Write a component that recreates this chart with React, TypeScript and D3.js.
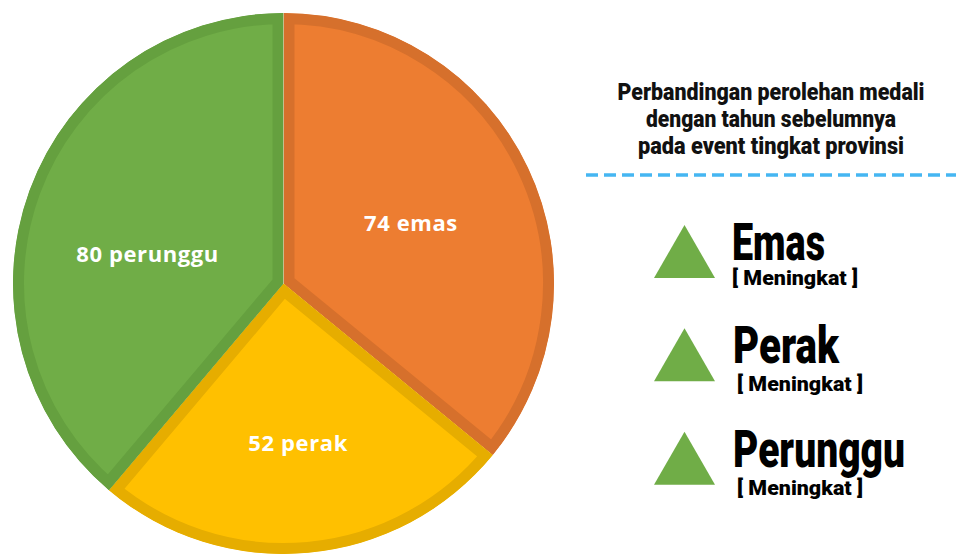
import React from "react";
import * as d3 from "d3";

const categories = ["emas", "perak", "perunggu"];
const values = [74, 52, 80];
const fills = ["#ED7D31", "#FFC000", "#70AD47"];
const strokes = ["#D6702C", "#E6AD00", "#65A03F"];

const titleLines = [
  "Perbandingan perolehan medali",
  "dengan tahun sebelumnya",
  "pada event tingkat provinsi",
];
const legendNames = ["Emas", "Perak", "Perunggu"];
const legendStatus = ["[ Meningkat ]", "[ Meningkat ]", "[ Meningkat ]"];

// layout
const W = 956;
const H = 554;
const cx = 283.5;
const cy = 283.5;
const R = 270.5;
const labelRadius = [141, 160, 139];
const labelNudge = [0, 0, -0.14];
const titleWidths = [307, 250, 266];
const nameWidths = [93, 106, 172];
const nameX = [732, 733, 733];
const statusX = [732, 737, 737];

export default function App() {
  const pie = d3
    .pie<number>()
    .sort(null)
    .value((d) => d)
    .startAngle(0)
    .endAngle(2 * Math.PI);
  const arcs = pie(values);
  const arc = d3.arc<d3.PieArcDatum<number>>().innerRadius(0).outerRadius(R);

  const legendY = d3.scaleBand<number>().domain([0, 1, 2]).range([215, 525]);
  const titleFont = "Roboto, 'DejaVu Sans', sans-serif";

  return (
    <svg
      width={W}
      height={H}
      style={{ position: "absolute", left: 0, top: 0, background: "#fff" }}
    >
      <defs>
        {arcs.map((a, i) => (
          <clipPath id={`clip${i}`} key={i}>
            <path d={arc(a) || ""} />
          </clipPath>
        ))}
      </defs>
      <g transform={`translate(${cx},${cy})`}>
        {arcs.map((a, i) => (
          <path
            key={categories[i]}
            d={arc(a) || ""}
            fill={fills[i]}
            stroke={strokes[i]}
            strokeWidth={22}
            clipPath={`url(#clip${i})`}
          />
        ))}
      </g>
      <g>
        {arcs.map((a, i) => {
          const mid = (a.startAngle + a.endAngle) / 2 + labelNudge[i];
          const r = labelRadius[i];
          const x = cx + Math.sin(mid) * r;
          const y = cy - Math.cos(mid) * r;
          return (
            <text
              key={i}
              x={x}
              y={y}
              dy="0.36em"
              textAnchor="middle"
              fill="#fff"
              fontFamily="'Open Sans', sans-serif"
              fontWeight={700}
              fontSize={22}
              letterSpacing={0.6}
            >
              {`${values[i]} ${categories[i]}`}
            </text>
          );
        })}
      </g>
      <g>
        {titleLines.map((t, i) => (
          <text
            key={i}
            x={771}
            y={100 + i * 27}
            textAnchor="middle"
            fontFamily={titleFont}
            fontWeight={900}
            fontSize={24}
            fill="#111"
            textLength={titleWidths[i]}
            lengthAdjust="spacingAndGlyphs"
          >
            {t}
          </text>
        ))}
        <line
          x1={586}
          x2={956}
          y1={175}
          y2={175}
          stroke="#45B6F2"
          strokeWidth={3.5}
          strokeDasharray="12 6"
        />
      </g>
      <g>
        {legendNames.map((n, i) => {
          const top = (legendY(i) as number) + 10;
          const tri = d3.line()([
            [684.5, top],
            [715, top + 53],
            [654, top + 53],
          ]);
          return (
            <g key={n}>
              <path d={(tri || "") + "Z"} fill="#70AD47" />
              <text
                x={nameX[i]}
                y={top + 35}
                fontFamily={titleFont}
                fontWeight={900}
                fontSize={52}
                fill="#000"
                textLength={nameWidths[i]}
                lengthAdjust="spacingAndGlyphs"
              >
                {n}
              </text>
              <text
                x={statusX[i]}
                y={top + 60 + (i === 0 ? 0 : 3)}
                fontFamily={titleFont}
                fontWeight={900}
                fontSize={20}
                fill="#000"
                textLength={126}
                lengthAdjust="spacingAndGlyphs"
              >
                {legendStatus[i]}
              </text>
            </g>
          );
        })}
      </g>
    </svg>
  );
}
